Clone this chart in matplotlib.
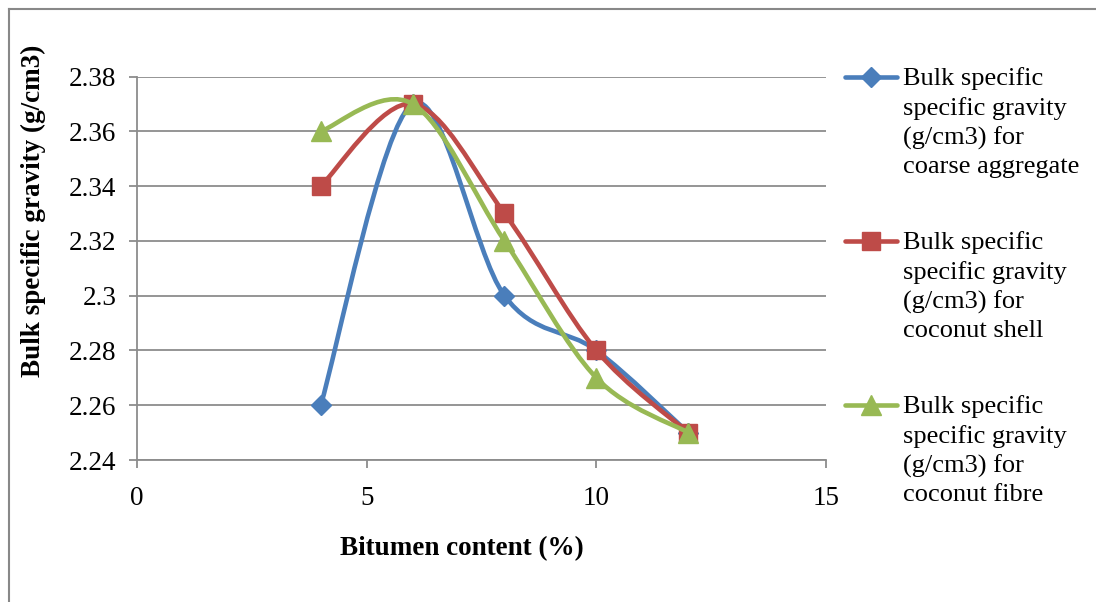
import matplotlib
matplotlib.use("Agg")
import matplotlib.pyplot as plt
import numpy as np
from matplotlib.lines import Line2D
from matplotlib.path import Path
from matplotlib.patches import PathPatch

plt.rcParams.update({
    "font.family": ["Liberation Serif", "DejaVu Serif"],
    "font.size": 19.5,
})

# ── Data ─────────────────────────────────────────────────────────────────────
BITUMEN = [4, 6, 8, 10, 12]
COARSE = [2.26, 2.37, 2.30, 2.28, 2.25]
SHELL = [2.34, 2.37, 2.33, 2.28, 2.25]
FIBRE = [2.36, 2.37, 2.32, 2.27, 2.25]

LABELS = [
    "Bulk specific\nspecific gravity\n(g/cm3) for\ncoarse aggregate",
    "Bulk specific\nspecific gravity\n(g/cm3) for\ncoconut shell",
    "Bulk specific\nspecific gravity\n(g/cm3) for\ncoconut fibre",
]

BLUE = "#4A7EBB"
RED = "#BE4B48"
GREEN = "#98B954"
GRID = "#8C8C8C"

W, H = 1096, 602


def smooth_path(x, y):
    """Excel-like smoothed line: cubic Bezier through the points."""
    pts = np.column_stack([x, y]).astype(float)
    n = len(pts)
    verts = [pts[0]]
    codes = [Path.MOVETO]
    for i in range(n - 1):
        p_prev = pts[max(i - 1, 0)]
        p0 = pts[i]
        p1 = pts[i + 1]
        p_next = pts[min(i + 2, n - 1)]
        c1 = p0 + (p1 - p_prev) / 6.0
        c2 = p1 - (p_next - p0) / 6.0
        verts += [c1, c2, p1]
        codes += [Path.CURVE4] * 3
    return Path(verts, codes)


def main():
    fig = plt.figure(figsize=(W / 100, H / 100), dpi=100)

    # figure border (left + top visible)
    fig.add_artist(Line2D([9 / W, 9 / W], [0, 1 - 9 / H], color="#888888",
                          linewidth=1.5, transform=fig.transFigure))
    fig.add_artist(Line2D([9 / W, 1], [1 - 9 / H, 1 - 9 / H], color="#888888",
                          linewidth=1.5, transform=fig.transFigure))

    left, right = 137 / W, 826 / W
    top, bottom = 1 - 76.5 / H, 1 - 460 / H
    ax = fig.add_axes([left, bottom, right - left, top - bottom])

    ax.set_xlim(0, 15)
    ax.set_ylim(2.24, 2.38)
    ax.set_xticks([0, 5, 10, 15])
    ax.set_xticklabels(["0", "5", "10", "15"])
    ax.set_yticks(np.arange(2.24, 2.381, 0.02))
    ax.set_yticklabels(["2.24", "2.26", "2.28", "2.3", "2.32", "2.34", "2.36", "2.38"])
    ax.grid(axis="y", color=GRID, linewidth=1.3)
    ax.set_axisbelow(True)

    for s in ("top", "right"):
        ax.spines[s].set_visible(False)
    for s in ("left", "bottom"):
        ax.spines[s].set_color(GRID)
        ax.spines[s].set_linewidth(1.3)
    ax.tick_params(axis="both", direction="out", length=6, width=1.3,
                   color=GRID, labelsize=19.5)
    ax.tick_params(axis="y", pad=9)
    ax.tick_params(axis="x", pad=13)

    series = [
        (COARSE, BLUE, "D", 10.5),
        (SHELL, RED, "s", 13.5),
        (FIBRE, GREEN, "^", 14),
    ]
    for z, (vals, color, marker, ms) in enumerate(series):
        patch = PathPatch(smooth_path(BITUMEN, vals), facecolor="none",
                          edgecolor=color, linewidth=3.3, zorder=3 + z * 2,
                          capstyle="round", joinstyle="round")
        ax.add_patch(patch)
        ax.plot(BITUMEN, vals, linestyle="none", marker=marker, markersize=ms,
                color=color, markeredgecolor=color, zorder=4 + z * 2,
                clip_on=False)

    fig.text(33 / W, 1 - 211 / H, "Bulk specific gravity (g/cm3)",
             rotation=90, ha="center", va="center", fontsize=19.5,
             fontweight="bold")
    fig.text(462 / W, 1 - 549 / H, "Bitumen content (%)", ha="center",
             va="center", fontsize=19.5, fontweight="bold")

    # legend drawn by hand to keep the handle on the first text line
    for i, ((vals, color, marker, ms), label) in enumerate(zip(series, LABELS)):
        yc = 77 + i * 164
        fig.add_artist(Line2D([845 / W, 897 / W], [1 - yc / H, 1 - yc / H],
                              color=color, linewidth=3.3,
                              solid_capstyle="round",
                              transform=fig.transFigure))
        fig.add_artist(Line2D([871 / W], [1 - yc / H], marker=marker,
                              markersize=ms, color=color, linestyle="none",
                              transform=fig.transFigure))
        fig.text(903 / W, 1 - (yc - 10) / H, label, ha="left", va="top",
                 fontsize=19, linespacing=1.37)

    fig.savefig("out.png", dpi=100, facecolor="white")
    plt.close(fig)


if __name__ == "__main__":
    main()
